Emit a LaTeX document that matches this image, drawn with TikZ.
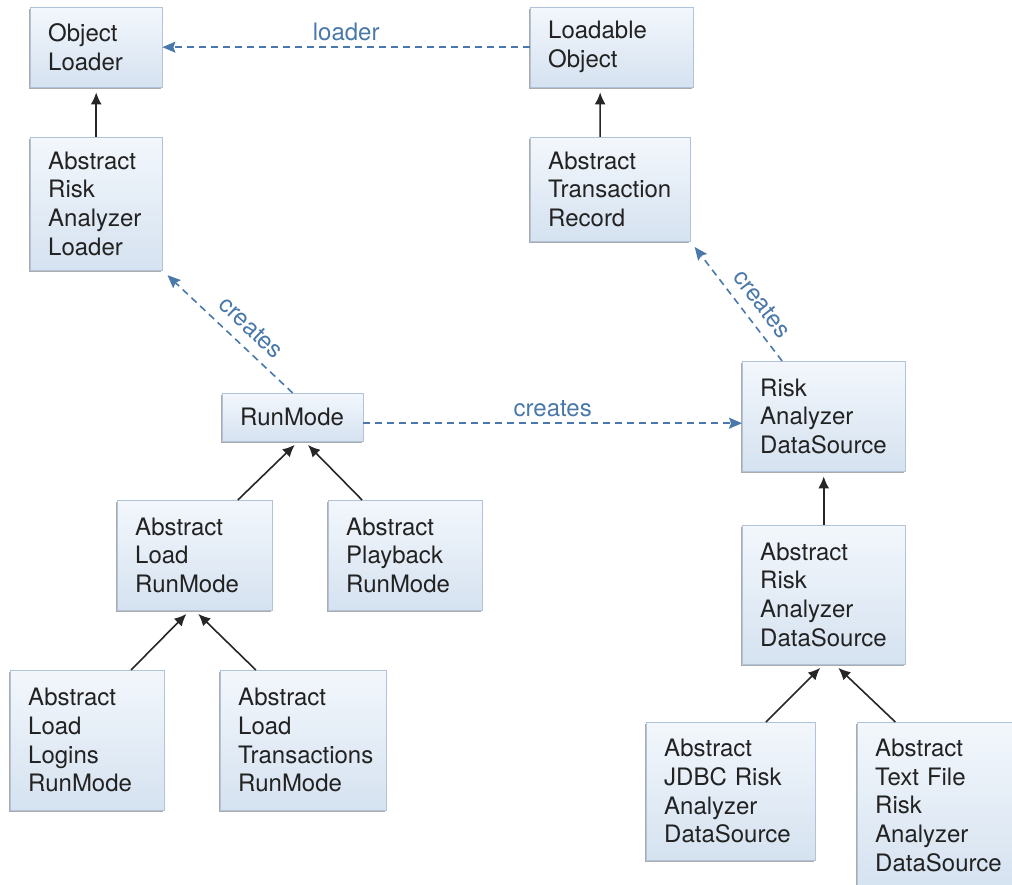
\documentclass[tikz,border=0pt]{standalone}
\usepackage{fontspec}
\setmainfont{TeX Gyre Heros}
\usetikzlibrary{arrows.meta,shadows}
\definecolor{boxtop}{HTML}{F3F7FC}
\definecolor{boxbot}{HTML}{D5E2F0}
\definecolor{boxline}{HTML}{B0C3D8}
\definecolor{linkblue}{HTML}{4A78AA}
\definecolor{txt}{HTML}{222222}
\tikzstyle{cls} = [draw=boxline, top color=boxtop, bottom color=boxbot, anchor=north west,
  align=left, inner xsep=18pt, inner ysep=0pt, text=txt,
  drop shadow={shadow xshift=-1.5pt, shadow yshift=-1.5pt, fill=black!55, opacity=.6},
  font=\fontsize{24}{28.7}\selectfont]

\begin{document}
\begin{tikzpicture}[x=1pt,y=-1pt]
\tikzset{
  isa/.style={draw=black!85, line width=1.6pt, -{Latex[length=12pt,width=11pt]}, shorten >=5pt},
  uses/.style={draw=linkblue, line width=1.6pt, dash pattern=on 7pt off 5pt,
    -{Stealth[length=13pt,width=11pt,inset=2pt]}},
  lbl/.style={text=linkblue, font=\fontsize{24}{28.7}\selectfont}
}
\useasboundingbox (0,0) rectangle (1012,885);

\node[cls, text width=96pt, minimum height=80pt] (ol) at (30,7) {Object\\Loader};
\node[cls, text width=127pt, minimum height=80pt] (lo) at (530,7) {Loadable\\Object};
\node[cls, text width=96pt, minimum height=133pt] (aral) at (30,137) {Abstract\\Risk\\Analyzer\\Loader};
\node[cls, text width=124pt, minimum height=104pt] (atr) at (530,137) {Abstract\\Transaction\\Record};
\node[cls, text width=105pt, minimum height=48pt] (rm) at (222,393) {RunMode};
\node[cls, text width=127pt, minimum height=110pt] (rds) at (742,361) {Risk\\Analyzer\\DataSource};
\node[cls, text width=119pt, minimum height=110pt] (alr) at (117,500) {Abstract\\Load\\RunMode};
\node[cls, text width=118pt, minimum height=110pt] (apr) at (328,500) {Abstract\\Playback\\RunMode};
\node[cls, text width=127pt, minimum height=139pt] (arads) at (742,525) {Abstract\\Risk\\Analyzer\\DataSource};
\node[cls, text width=118pt, minimum height=140pt] (allr) at (10,670) {Abstract\\Load\\Logins\\RunMode};
\node[cls, text width=130pt, minimum height=140pt] (altr) at (220,670) {Abstract\\Load\\Transactions\\RunMode};
\node[cls, text width=133pt, minimum height=138pt] (ajdbc) at (646,722) {Abstract\\JDBC Risk\\Analyzer\\DataSource};
\node[cls, text width=125pt, minimum height=166pt] (atf) at (857,722) {Abstract\\Text File\\Risk\\Analyzer\\DataSource};

% inheritance
\foreach \from/\to in {aral.north/ol.south, atr.101/lo.254, arads.north/rds.south,
  alr.52/rm.283, apr.128/rm.296, allr.58/alr.265, altr.124/alr.270,
  ajdbc.63/arads.270, atf.117/arads.279}
{
	\draw[isa] (\from) -- (\to);
}

% associations
\draw[uses] (lo.west) -- (ol.east) node[lbl, midway, above=2pt] {loader};
\draw[uses, shorten >=7pt] (rm.north) -- (aral.south east) node[lbl, pos=.42, sloped, above=7pt] {creates};
\draw[uses, shorten >=7pt] (rds.127) -- (atr.south east) node[lbl, pos=.38, sloped, above=7pt] {creates};
\draw[uses] ([yshift=-6pt]rm.east) -- ([yshift=-6pt]rm.east -| rds.west) node[lbl, midway, above=2pt] {creates};

\end{tikzpicture}
\end{document}
